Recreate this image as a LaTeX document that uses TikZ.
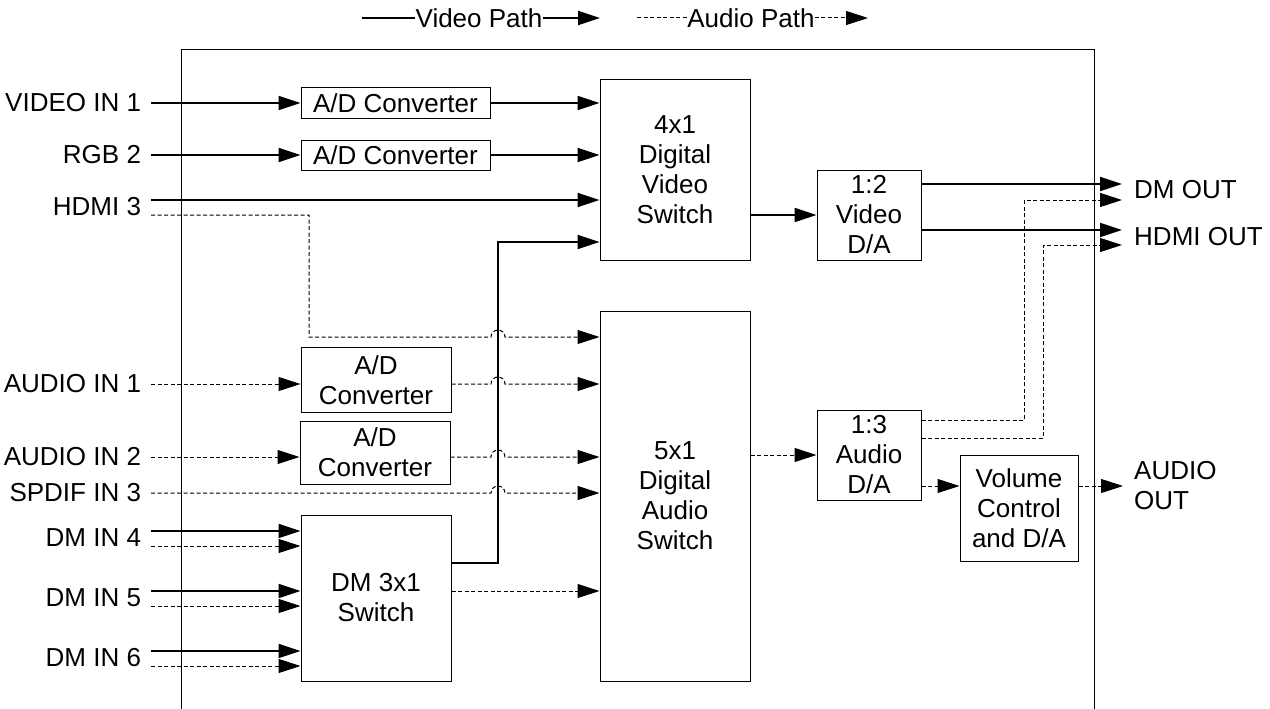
\documentclass[tikz,border=0pt]{standalone}
\usepackage{fontspec}
\setmainfont{Liberation Sans}
\usepackage{tikz}
\usetikzlibrary{arrows.meta, calc}
\tikzstyle{block} = [rectangle, line width=1pt, text centered, align=center, draw=black, inner sep=0pt]
\tikzstyle{port} = [inner sep=0pt]
\tikzstyle{inport} = [inner sep=0pt, outer xsep=10pt, anchor=east]
\tikzstyle{video} = [line width=2pt, -{Triangle[length=22pt,width=14pt]}]
\tikzstyle{audio} = [line width=1pt, dash pattern=on 4pt off 2.5pt, -{Triangle[length=22pt,width=14pt]}]

\begin{document}
\begin{tikzpicture}[x=1pt, y=-1pt, font=\fontsize{26}{30}\selectfont]
		\useasboundingbox (0,0) rectangle (1270,709);
		% legend
		\node (LegVideo) [port] at (479,18) {Video Path};
		\node (LegAudio) [port] at (751,18) {Audio Path};
		\coordinate (LegVideoTail) at (362,18);
		\coordinate (LegVideoHead) at (600,18);
		\coordinate (LegAudioTail) at (637,18);
		\coordinate (LegAudioHead) at (868,18);
		\draw [line width=2pt] (LegVideoTail) -- (LegVideo.west);
		\draw [video] (LegVideo.east) -- (LegVideoHead);
		\draw [audio, -] (LegAudioTail) -- (LegAudio.west);
		\draw [audio] (LegAudio.east) -- (LegAudioHead);
		% enclosure
		\draw [line width=1pt] (181,709) |- (1094,50) -- (1094,709);
		% blocks
		\node (ADV1) [block, minimum width=189pt, minimum height=30pt] at (395.5,103) {A/D Converter};
		\node (ADV2) [block, minimum width=189pt, minimum height=30pt] at (395.5,155) {A/D Converter};
		\node (VSwitch) [block, minimum width=150pt, minimum height=180pt] at (675,170) {4x1\\Digital\\Video\\Switch};
		\node (VDA) [block, minimum width=104pt, minimum height=90pt] at (869,215) {1:2\\Video\\D/A};
		\node (ASwitch) [block, minimum width=150pt, minimum height=370pt] at (675,496) {5x1\\Digital\\Audio\\Switch};
		\node (ADA1) [block, minimum width=150pt, minimum height=65pt] at (376,380) {A/D\\Converter};
		\node (ADA2) [block, minimum width=150pt, minimum height=63pt] at (375,452.5) {A/D\\Converter};
		\node (DMSwitch) [block, minimum width=150pt, minimum height=166pt] at (376,598) {DM 3x1\\Switch};
		\node (ADA) [block, minimum width=104pt, minimum height=90pt] at (869,455) {1:3\\Audio\\D/A};
		\node (Volume) [block, minimum width=118pt, minimum height=106pt] at (1019,508) {Volume\\Control\\and D/A};
		% inputs
		\node (VideoIn1) [inport] at (151,103) {VIDEO IN 1};
		\node (RGBIn2) [inport] at (151,155) {RGB 2};
		\node (HDMIIn3) [inport] at (151,207) {HDMI 3};
		\node (AudioIn1) [inport] at (151,384) {AUDIO IN 1};
		\node (AudioIn2) [inport] at (151,457) {AUDIO IN 2};
		\node (SPDIFIn3) [inport] at (151,493) {SPDIF IN 3};
		\node (DMIn4) [inport] at (151,538) {DM IN 4};
		\node (DMIn5) [inport] at (151,598) {DM IN 5};
		\node (DMIn6) [inport] at (151,658) {DM IN 6};
		% outputs
		\node (DMOut) [port, anchor=west] at (1134,190) {DM OUT};
		\node (HDMIOut) [port, anchor=west] at (1134,237) {HDMI OUT};
		\node (AudioOut) [port, anchor=west, align=left] at (1134,486) {AUDIO\\OUT};
		% support points
		\coordinate (HDMIv) at ($(HDMIIn3.east)+(0,-7)$);
		\coordinate (HDMIa) at ($(HDMIIn3.east)+(0,8)$);
		\coordinate (HDMIbend) at (309,337);
		\coordinate (DMv) at ($(DMSwitch.east)+(0,-35)$);
		\coordinate (Riser) at (498,242);
		% video paths
		\draw [video] (VideoIn1.east) -- (VideoIn1.east -| ADV1.west);
		\draw [video] (ADV1.east) -- (ADV1.east -| VSwitch.west);
		\draw [video] (RGBIn2.east) -- (RGBIn2.east -| ADV2.west);
		\draw [video] (ADV2.east) -- (ADV2.east -| VSwitch.west);
		\draw [video] (HDMIv) -- (HDMIv -| VSwitch.west);
		\draw [video] (DMv) -| (Riser) -- (Riser -| VSwitch.west);
		\draw [video] (VSwitch.east |- VDA.west) -- (VDA.west);
		\draw [video] ($(VDA.east |- DMOut.west)+(0,-6)$) -- ($(DMOut.west)+(-12,-6)$);
		\draw [video] ($(VDA.east |- HDMIOut.west)+(0,-7)$) -- ($(HDMIOut.west)+(-12,-7)$);
		% audio paths
		\draw [audio] (HDMIa) -| (HDMIbend) -- ($(Riser |- HDMIbend)+(-7,0)$) arc [start angle=180, end angle=0, radius=7pt] -- (HDMIbend -| ASwitch.west);
		\draw [audio] (AudioIn1.east) -- (AudioIn1.east -| ADA1.west);
		\draw [audio] (ADA1.east |- AudioIn1.east) -- ($(Riser |- AudioIn1.east)+(-7,0)$) arc [start angle=180, end angle=0, radius=7pt] -- (ASwitch.west |- AudioIn1.east);
		\draw [audio] (AudioIn2.east) -- (AudioIn2.east -| ADA2.west);
		\draw [audio] (ADA2.east |- AudioIn2.east) -- ($(Riser |- AudioIn2.east)+(-7,0)$) arc [start angle=180, end angle=0, radius=7pt] -- (ASwitch.west |- AudioIn2.east);
		\draw [audio] (SPDIFIn3.east) -- ($(Riser |- SPDIFIn3.east)+(-7,0)$) arc [start angle=180, end angle=0, radius=7pt] -- (ASwitch.west |- SPDIFIn3.east);
		\foreach \port in {DMIn4, DMIn5, DMIn6} {
			\draw [video] ($(\port.east)+(0,-7)$) -- ($(\port.east -| DMSwitch.west)+(0,-7)$);
			\draw [audio] ($(\port.east)+(0,8)$) -- ($(\port.east -| DMSwitch.west)+(0,8)$);
		}
		\draw [audio] ($(DMSwitch.east)+(0,-7)$) -- ($(DMSwitch.east -| ASwitch.west)+(0,-7)$);
		\draw [audio] (ASwitch.east |- ADA.west) -- (ADA.west);
		\draw [audio] (ADA.east |- AudioOut.west) -- (Volume.west |- AudioOut.west);
		\draw [audio] (Volume.east |- AudioOut.west) -- ($(AudioOut.west)+(-11,0)$);
		\draw [audio] ($(ADA.east)+(0,-35)$) -| ($(DMOut.west)+(-110,10)$) -- ($(DMOut.west)+(-12,10)$);
		\draw [audio] ($(ADA.east)+(0,-17)$) -| ($(HDMIOut.west)+(-91,8)$) -- ($(HDMIOut.west)+(-12,8)$);
\end{tikzpicture}
\end{document}
